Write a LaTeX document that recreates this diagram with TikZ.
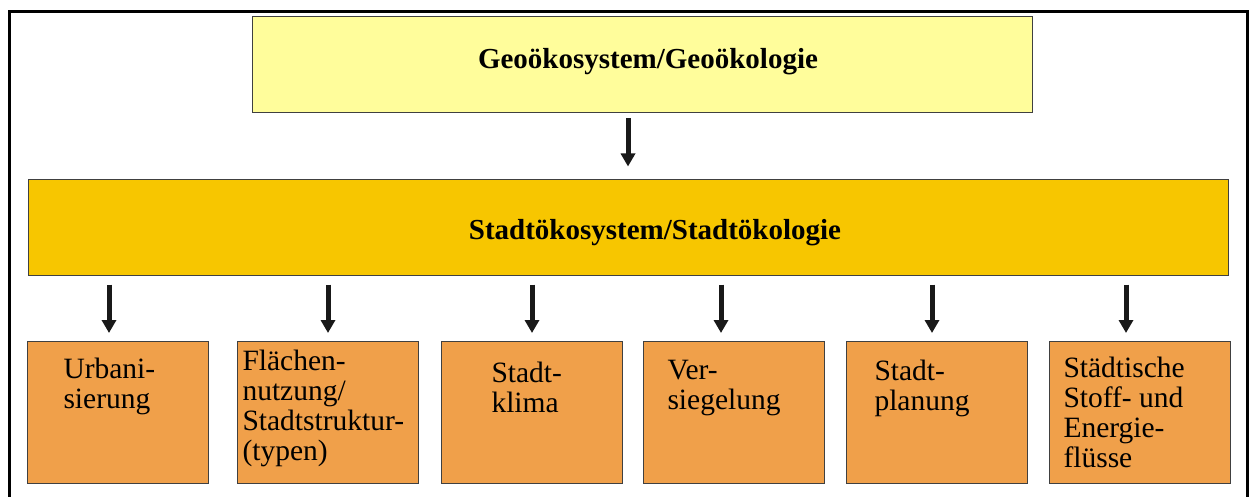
\documentclass[tikz,border=0pt]{standalone}
\usepackage{fontspec}
\setmainfont{Liberation Serif}
\usetikzlibrary{arrows.meta}
\definecolor{geo}{HTML}{FFFD9B}
\definecolor{stadt}{HTML}{F7C600}
\definecolor{thema}{HTML}{F0A04A}
\newcommand\boxtext[3]{\parbox[t][142pt][t]{181pt}{\raggedright\leftskip=#1pt\vspace*{#2pt}#3}}
\tikzset{
    kasten/.style={draw=black!75,line width=1pt,inner sep=0pt},
    titel/.style={kasten,font=\bfseries\fontsize{29}{30}\selectfont},
    thema/.style={kasten,fill=thema,minimum width=181pt,minimum height=142pt,anchor=north west,font=\fontsize{29.5}{30}\selectfont},
    pfeil/.style={draw=black!90,line width=5pt,-{Triangle[width=14pt,length=13pt]}},
}
\begin{document}
\begin{tikzpicture}[x=1pt,y=-1pt]
    \useasboundingbox (0,0) rectangle (1249,497);
    \draw[line width=2.5pt] (9.5,497) -- (9.5,11.3) -- (1247.5,11.3) -- (1247.5,497);
    \node[titel,fill=geo,minimum width=780pt,minimum height=96pt](0) at (642,65) {\hspace*{12pt}\raisebox{3pt}[\height][\depth]{Geoökosystem/Geoökologie}};
    \node[titel,fill=stadt,minimum width=1200pt,minimum height=95pt](1) at (628,227.5) {\hspace*{54pt}\raisebox{-5pt}[\height][\depth]{Stadtökosystem/Stadtökologie}};
    \node[thema](a) at (27,341) {\boxtext{36}{17}{Urbani-\\sierung}};
    \node[thema](b) at (237,341) {\boxtext{5}{9}{Flächen-\\nutzung/\\Stadtstruktur-\\(typen)}};
    \node[thema](c) at (441,341) {\boxtext{50}{21}{Stadt-\\klima}};
    \node[thema](d) at (643,341) {\boxtext{24}{19}{Ver-\\siegelung}};
    \node[thema](e) at (846,341) {\boxtext{28}{19}{Stadt-\\planung}};
    \node[thema](f) at (1049,341) {\boxtext{14}{16}{Städtische\\Stoff- und\\Energie-\\flüsse}};
    \draw [pfeil,shorten <=5pt,shorten >=13pt] (0.south -| 1.north) -- (1.north) ;
    \draw [pfeil,shorten <=9pt,shorten >=8pt] ([xshift=-9pt]a.north |- 1.south) -- ([xshift=-9pt]a.north) ;
    \draw [pfeil,shorten <=9pt,shorten >=8pt] (b.north |- 1.south) -- (b.north) ;
    \draw [pfeil,shorten <=9pt,shorten >=8pt] (c.north |- 1.south) -- (c.north) ;
    \draw [pfeil,shorten <=9pt,shorten >=8pt] ([xshift=-13pt]d.north |- 1.south) -- ([xshift=-13pt]d.north) ;
    \draw [pfeil,shorten <=9pt,shorten >=8pt] ([xshift=-5pt]e.north |- 1.south) -- ([xshift=-5pt]e.north) ;
    \draw [pfeil,shorten <=9pt,shorten >=8pt] ([xshift=-14pt]f.north |- 1.south) -- ([xshift=-14pt]f.north) ;
\end{tikzpicture}
\end{document}
